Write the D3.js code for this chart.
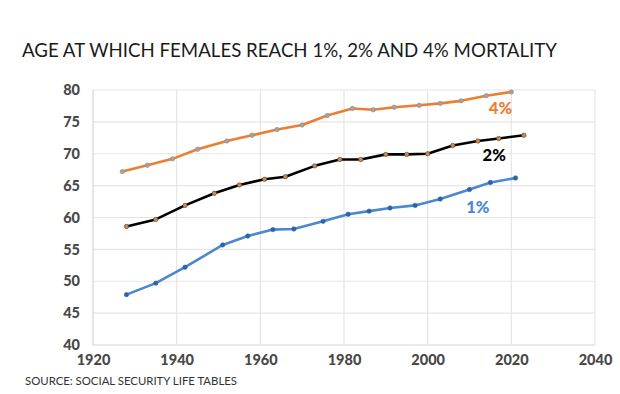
<!DOCTYPE html>
<html>
<head>
<meta charset="utf-8">
<script src="https://cdn.jsdelivr.net/npm/d3@7"></script>
<style>
  body { margin: 0; background: #fff; }
  svg { display: block; }
</style>
</head>
<body>
<div id="chart"></div>
<script>
// values
var years4 = [1927, 1933, 1939, 1945, 1952, 1958, 1964, 1970, 1976, 1982, 1987, 1992, 1998, 2003, 2008, 2014, 2020];
var ages4 = [67.2, 68.2, 69.2, 70.7, 72.0, 72.9, 73.8, 74.5, 76.0, 77.1, 76.9, 77.3, 77.6, 77.9, 78.3, 79.1, 79.7];

var years2 = [1928, 1935, 1942, 1949, 1955, 1961, 1966, 1973, 1979, 1984, 1990, 1995, 2000, 2006, 2012, 2017, 2023];
var ages2 = [58.6, 59.7, 61.9, 63.8, 65.1, 66.0, 66.4, 68.1, 69.1, 69.1, 69.9, 69.9, 70.0, 71.3, 72.0, 72.4, 72.9];

var years1 = [1928, 1935, 1942, 1951, 1957, 1963, 1968, 1975, 1981, 1986, 1991, 1997, 2003, 2010, 2015, 2021];
var ages1 = [47.9, 49.7, 52.2, 55.7, 57.1, 58.1, 58.2, 59.4, 60.5, 61.0, 61.5, 61.9, 62.9, 64.4, 65.5, 66.2];

var xTicks = [1920, 1940, 1960, 1980, 2000, 2020, 2040];
var yTicks = [40, 45, 50, 55, 60, 65, 70, 75, 80];

var seriesNames = ["4%", "2%", "1%"];

var width = 620;
var height = 394;
var margin = { 'top': 90, 'right': 25, 'bottom': 49, 'left': 93 };

var svg = d3.select('#chart').append('svg')
    .attr('width', width)
    .attr('height', height);

var x = d3.scaleLinear().domain([1920, 2040]).range([margin.left, width - margin.right]);
var y = d3.scaleLinear().domain([40, 80]).range([height - margin.bottom, margin.top]);

// grid
svg.append('g').selectAll('line.h')
    .data(yTicks)
    .enter().append('line')
    .attr('x1', x(1920)).attr('x2', x(2040))
    .attr('y1', function (d) { return y(d); })
    .attr('y2', function (d) { return y(d); })
    .attr('stroke', function (d) { return d === 40 ? '#d4d4d4' : '#e6e6e6'; })
    .attr('stroke-width', 1.2);

svg.append('g').selectAll('line.v')
    .data(xTicks)
    .enter().append('line')
    .attr('y1', y(40)).attr('y2', y(80))
    .attr('x1', function (d) { return x(d); })
    .attr('x2', function (d) { return x(d); })
    .attr('stroke', function (d) { return d === 1920 ? '#d4d4d4' : '#e6e6e6'; })
    .attr('stroke-width', 1.2);

// axes (labels only)
var xAxis = svg.append('g')
    .attr('transform', 'translate(0,' + y(40) + ')')
    .call(d3.axisBottom(x).tickValues(xTicks).tickFormat(d3.format('d')).tickSize(0).tickPadding(10));
var yAxis = svg.append('g')
    .attr('transform', 'translate(' + x(1920) + ',0)')
    .call(d3.axisLeft(y).tickValues(yTicks).tickSize(0).tickPadding(13));

[xAxis, yAxis].forEach(function (a) {
    a.select('.domain').remove();
    a.selectAll('text')
        .attr('fill', '#484848')
        .style('font-family', 'Lato, sans-serif')
        .style('font-weight', '900')
        .style('font-size', '14.5px');
});

// lines
var series = [
    { name: '4%', years: years4, ages: ages4, color: '#ed7d31', dot: '#a8a39d', dotStroke: '#8f8a85' },
    { name: '2%', years: years2, ages: ages2, color: '#000000', dot: '#c98a55', dotStroke: '#5a3a20' },
    { name: '1%', years: years1, ages: ages1, color: '#4a88d0', dot: '#2f63a8', dotStroke: '#2f63a8' }
];

var line = d3.line()
    .x(function (d) { return x(d[0]); })
    .y(function (d) { return y(d[1]); });

series.forEach(function (s) {
    var pts = d3.zip(s.years, s.ages);
    svg.append('path')
        .datum(pts)
        .attr('fill', 'none')
        .attr('stroke', s.color)
        .attr('stroke-width', 2.6)
        .attr('stroke-linejoin', 'round')
        .attr('d', line);
    svg.append('g').selectAll('circle')
        .data(pts)
        .enter().append('circle')
        .attr('cx', function (d) { return x(d[0]); })
        .attr('cy', function (d) { return y(d[1]); })
        .attr('r', 2.2)
        .attr('fill', s.dot)
        .attr('stroke', s.dotStroke)
        .attr('stroke-width', 0.6);
});

// series labels
var labels = [
    { text: seriesNames[0], year: 2017.4, age: 76.25, color: '#ed7d31' },
    { text: seriesNames[1], year: 2015.9, age: 68.85, color: '#000000' },
    { text: seriesNames[2], year: 2012, age: 60.7, color: '#4a88d0' }
];
svg.append('g').selectAll('text')
    .data(labels)
    .enter().append('text')
    .attr('x', function (d) { return x(d.year); })
    .attr('y', function (d) { return y(d.age); })
    .attr('text-anchor', 'middle')
    .attr('fill', function (d) { return d.color; })
    .style('font-family', 'Lato, sans-serif')
    .style('font-weight', '900')
    .style('font-size', '16.5px')
    .text(function (d) { return d.text; });

// title and source
svg.append('text')
    .attr('x', 22)
    .attr('y', 57)
    .attr('fill', '#1a1a1a')
    .style('font-family', 'Lato, sans-serif')
    .style('font-size', '19px')
    .attr('textLength', 535)
    .attr('lengthAdjust', 'spacingAndGlyphs')
    .text('AGE AT WHICH FEMALES REACH 1%, 2% AND 4% MORTALITY');

svg.append('text')
    .attr('x', 25)
    .attr('y', 385)
    .attr('fill', '#333')
    .style('font-family', 'Lato, sans-serif')
    .style('font-size', '11px')
    .attr('textLength', 212)
    .attr('lengthAdjust', 'spacingAndGlyphs')
    .text('SOURCE: SOCIAL SECURITY LIFE TABLES');
</script>
</body>
</html>
